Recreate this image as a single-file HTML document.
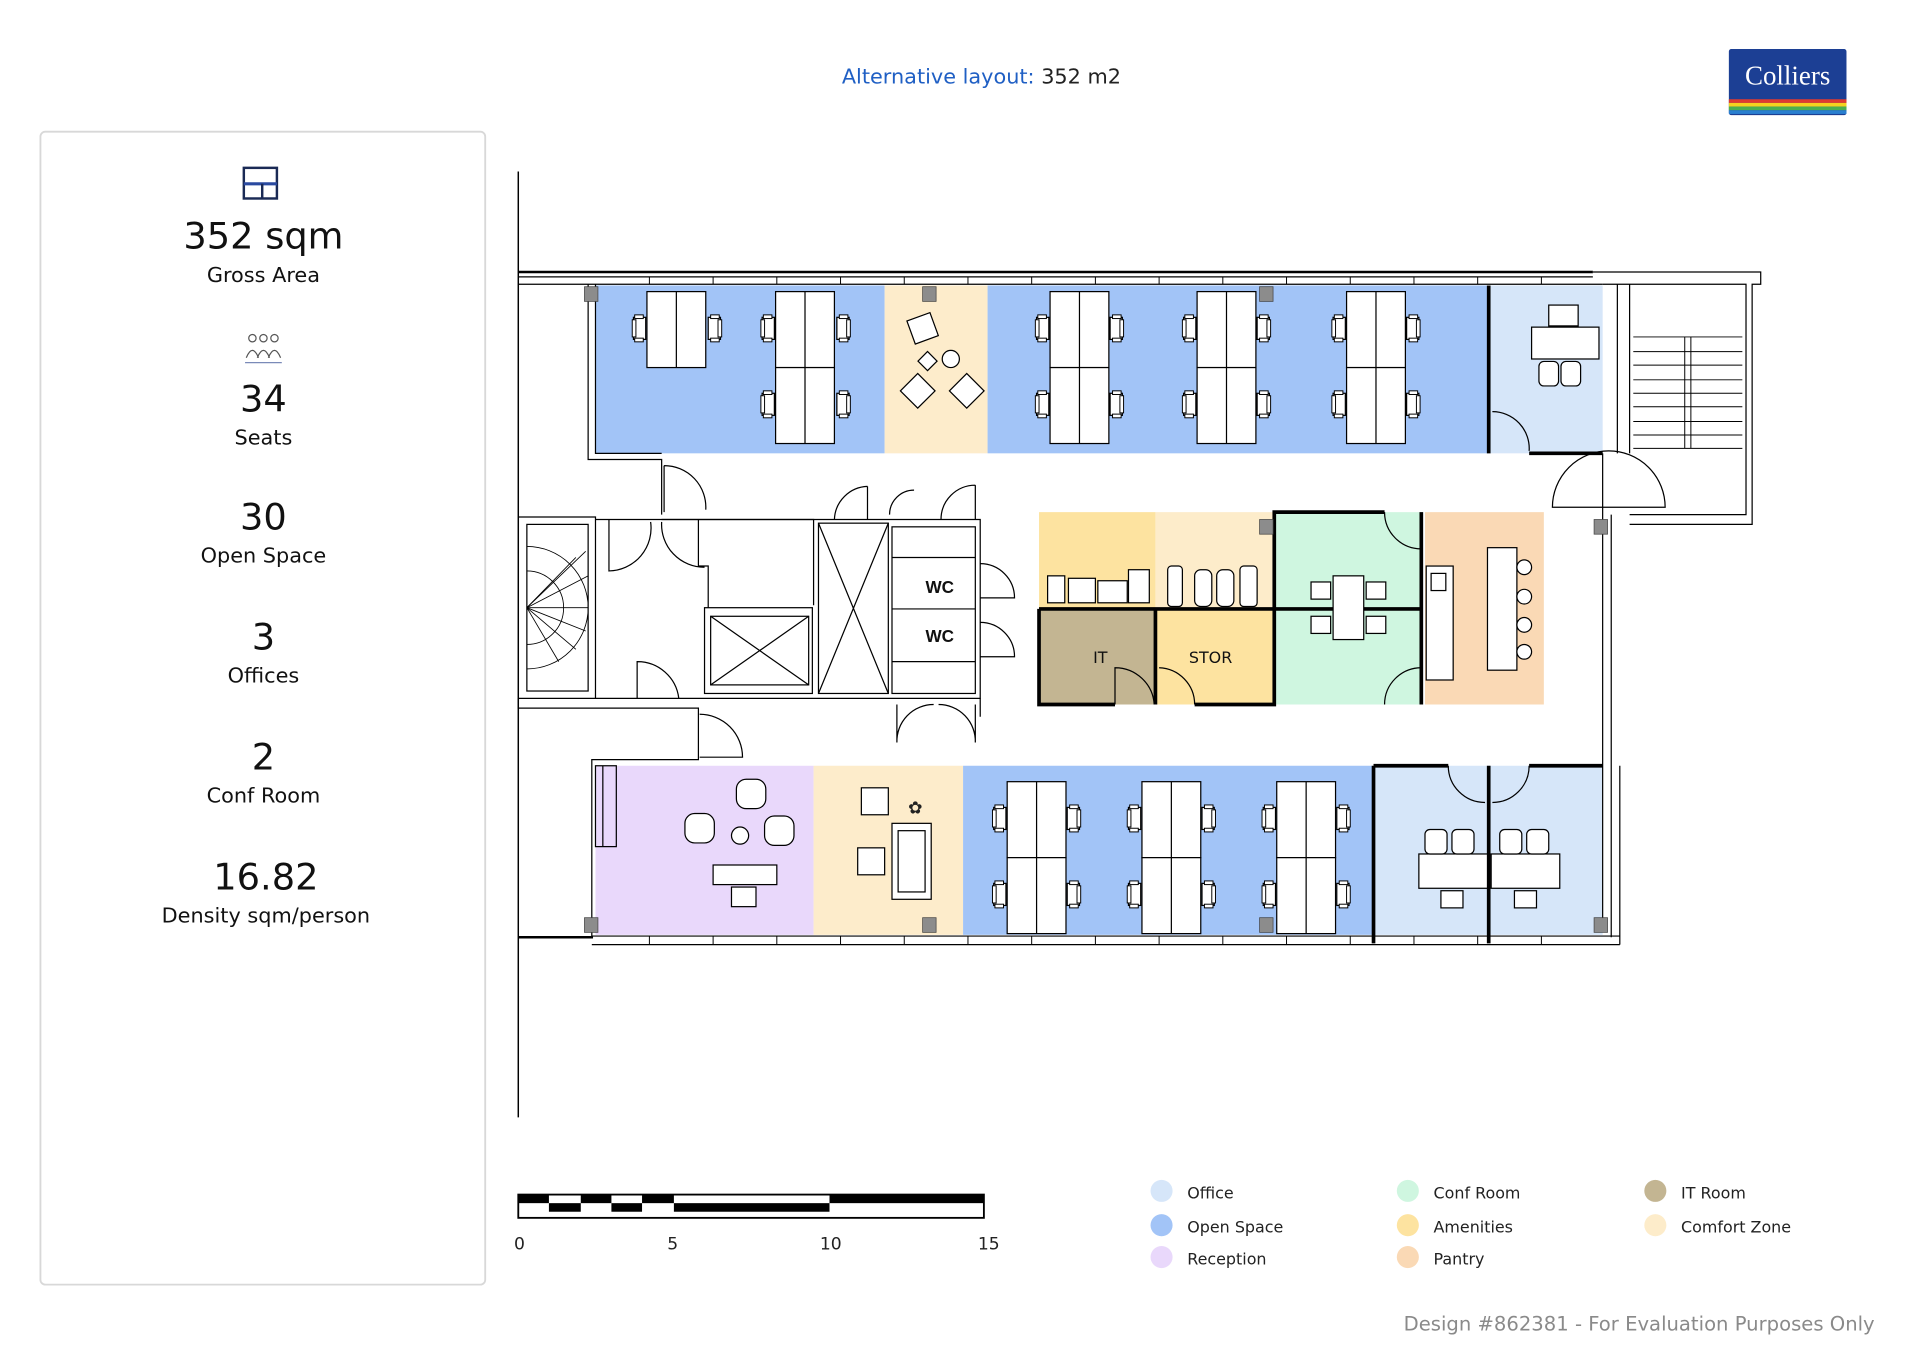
<!DOCTYPE html>
<html><head><meta charset="utf-8"><style>
html,body{margin:0;padding:0;background:#fff;}
svg{display:block;}
text{font-family:"DejaVu Sans","Liberation Sans",sans-serif;}
</style></head><body>
<svg width="1920" height="1359" viewBox="0 0 1567 1109.2" preserveAspectRatio="none" xmlns="http://www.w3.org/2000/svg">
<defs>
<g id="chR"><rect x="0" y="-9" width="10" height="18" fill="#fff" stroke="#000" stroke-width="1"/><rect x="2" y="-11" width="7" height="3" fill="#fff" stroke="#000" stroke-width="0.8"/><rect x="2" y="8" width="7" height="3" fill="#fff" stroke="#000" stroke-width="0.8"/><rect x="8" y="-7" width="3" height="14" fill="#fff" stroke="#000" stroke-width="0.8"/></g>
<g id="chL"><use href="#chR" transform="scale(-1,1)"/></g>
<g id="desk2"><rect x="0" y="0" width="48" height="62" fill="#fff" stroke="#000" stroke-width="1"/><line x1="24" y1="0" x2="24" y2="62" stroke="#000" stroke-width="1"/></g>
<clipPath id="stc"><rect x="430" y="428" width="50" height="136"/></clipPath>
</defs>

<text x="801" y="68" font-size="17" text-anchor="middle"><tspan fill="#1f5fc4">Alternative layout:</tspan><tspan fill="#222"> 352 m2</tspan></text>
<rect x="1411" y="40" width="96" height="54" fill="#1c3f94" rx="2"/>
<text x="1459" y="69" font-size="22" fill="#fff" text-anchor="middle" style="font-family:'Liberation Serif',serif">Colliers</text>
<rect x="1411" y="81" width="96" height="3" fill="#e03a2f"/>
<rect x="1411" y="84" width="96" height="3" fill="#f5d21f"/>
<rect x="1411" y="87" width="96" height="3" fill="#4caf50"/>
<rect x="1411" y="90" width="96" height="3" fill="#2a7fd0"/>

<rect x="33" y="107.5" width="363" height="941" rx="4" fill="#fff" stroke="#d8d8d8" stroke-width="1.5"/>
<rect x="199" y="137" width="27" height="25" fill="none" stroke="#1a2a55" stroke-width="2"/>
<line x1="199" y1="150" x2="226" y2="150" stroke="#2a4aa0" stroke-width="2.5"/>
<line x1="214" y1="150" x2="214" y2="162" stroke="#1a2a55" stroke-width="2"/>
<text x="215" y="203" font-size="30" text-anchor="middle" fill="#111">352 sqm</text>
<text x="215" y="230" font-size="17" text-anchor="middle" fill="#111">Gross Area</text>
<g fill="none" stroke="#555" stroke-width="1"><circle cx="206" cy="276" r="3"/><circle cx="215" cy="276" r="3"/><circle cx="224" cy="276" r="3"/><path d="M201 292 q5-12 10 0 M210 292 q5-12 10 0 M219 292 q5-12 10 0"/></g>
<line x1="200" y1="296" x2="230" y2="296" stroke="#7a8ab8" stroke-width="1"/>
<text x="215" y="336" font-size="30" text-anchor="middle" fill="#111">34</text>
<text x="215" y="363" font-size="17" text-anchor="middle" fill="#111">Seats</text>
<text x="215" y="432" font-size="30" text-anchor="middle" fill="#111">30</text>
<text x="215" y="459" font-size="17" text-anchor="middle" fill="#111">Open Space</text>
<text x="215" y="530" font-size="30" text-anchor="middle" fill="#111">3</text>
<text x="215" y="557" font-size="17" text-anchor="middle" fill="#111">Offices</text>
<text x="215" y="628" font-size="30" text-anchor="middle" fill="#111">2</text>
<text x="215" y="655" font-size="17" text-anchor="middle" fill="#111">Conf Room</text>
<text x="217" y="726" font-size="30" text-anchor="middle" fill="#111">16.82</text>
<text x="217" y="753" font-size="17" text-anchor="middle" fill="#111">Density sqm/person</text>

<line x1="423" y1="140" x2="423" y2="912" stroke="#000" stroke-width="1.2"/>

<rect x="486" y="233" width="236" height="137" fill="#a2c4f7"/>
<rect x="722" y="233" width="84" height="137" fill="#fdeccb"/>
<rect x="806" y="233" width="408" height="137" fill="#a2c4f7"/>
<rect x="1216" y="233" width="92" height="137" fill="#d6e6f9"/>
<rect x="848" y="418" width="95" height="78" fill="#fde3a0"/>
<rect x="943" y="418" width="97" height="78" fill="#fdecca"/>
<rect x="1040" y="418" width="121" height="157" fill="#cff6e0"/>
<rect x="1163" y="418" width="97" height="157" fill="#fad9b5"/>
<rect x="848" y="497" width="95" height="78" fill="#c3b592"/>
<rect x="943" y="497" width="97" height="78" fill="#fde3a0"/>
<rect x="486" y="625" width="178" height="138" fill="#e9d8fb"/>
<rect x="664" y="625" width="122" height="138" fill="#fdeccb"/>
<rect x="786" y="625" width="334" height="138" fill="#a2c4f7"/>
<rect x="1121" y="625" width="187" height="138" fill="#d6e6f9"/>

<g fill="none" stroke="#000" stroke-width="1">
<line x1="423" y1="222" x2="1300" y2="222" stroke-width="2"/>
<line x1="423" y1="226" x2="1300" y2="226"/>
<line x1="423" y1="232" x2="1308" y2="232"/>
<path d="M1300 222 H1437 V232 H1430 V428 H1330 M1308 232 H1425 V420 H1330"/>
<line x1="1320" y1="232" x2="1320" y2="370"/><line x1="1330" y1="232" x2="1330" y2="370"/>
<g stroke-width="0.8"><line x1="1333" y1="275" x2="1422" y2="275"/><line x1="1333" y1="287" x2="1422" y2="287"/><line x1="1333" y1="298" x2="1422" y2="298"/><line x1="1333" y1="310" x2="1422" y2="310"/><line x1="1333" y1="321" x2="1422" y2="321"/><line x1="1333" y1="332" x2="1422" y2="332"/><line x1="1333" y1="344" x2="1422" y2="344"/><line x1="1333" y1="355" x2="1422" y2="355"/><line x1="1333" y1="366" x2="1422" y2="366"/><line x1="1375" y1="275" x2="1375" y2="366"/><line x1="1380" y1="275" x2="1380" y2="366"/></g>
<path d="M480 232 V375 H540 V420"/><path d="M486 232 V370 H540"/>
<line x1="1215" y1="233" x2="1215" y2="370" stroke-width="3"/>
<path d="M1248 370 H1308" stroke-width="3"/>
<path d="M1218 336 A30 30 0 0 1 1248 368"/>
<path d="M1308 370 V760"/><path d="M1315 420 V765"/>
<path d="M1267 414 A42 42 0 0 1 1359 414 Z"/>
<path d="M542 380 A34 34 0 0 1 576 416 M542 380 V418"/>
<path d="M423 422 H486 V570 H423"/><rect x="430" y="428" width="50" height="136"/>
<g stroke-width="0.7" clip-path="url(#stc)"><circle cx="430" cy="496" r="50"/><circle cx="430" cy="496" r="30"/><line x1="430" y1="496" x2="480" y2="470"/><line x1="430" y1="496" x2="478" y2="450"/><line x1="430" y1="496" x2="470" y2="455"/><line x1="430" y1="496" x2="480" y2="496"/><line x1="430" y1="496" x2="478" y2="515"/><line x1="430" y1="496" x2="470" y2="530"/><line x1="430" y1="496" x2="456" y2="540"/></g>
<path d="M486 424 H800 V570 H486"/>
<path d="M497 424 V466 A35 35 0 0 0 531 426"/>
<path d="M540 426 A35 35 0 0 0 575 463 M540 424 H570 V462 H578 V496 M570 424 H664 V494"/>
<rect x="575" y="496" width="88" height="70"/><rect x="580" y="503" width="80" height="56"/><path d="M580 503 L660 559 M660 503 L580 559"/>
<rect x="668" y="427" width="57" height="139"/><path d="M668 427 L725 566 M725 427 L668 566"/>
<rect x="728" y="430" width="68" height="136"/>
<line x1="728" y1="455" x2="796" y2="455"/><line x1="728" y1="497" x2="796" y2="497"/><line x1="728" y1="540" x2="796" y2="540"/>
<path d="M708 397 V424 M708 397 A28 28 0 0 0 681 424 M726 420 A20 20 0 0 1 746 400 M796 396 A28 28 0 0 0 768 424 M796 396 V424"/>
<path d="M800 460 A28 28 0 0 1 828 488 H800 M800 508 A28 28 0 0 1 828 536 H800"/>
<path d="M520 570 V540 A34 34 0 0 1 554 570 M800 570 V585"/>
<path d="M732 575 V606 A30 30 0 0 1 762 575 M796 575 V606 A30 30 0 0 0 766 575"/>
<path d="M423 570 V578 H570 V620 H483 V765"/>
<path d="M571 583 A35 35 0 0 1 606 618 H571"/>
<line x1="423" y1="765" x2="484" y2="765" stroke-width="2"/>
<line x1="483" y1="764" x2="1322" y2="764"/>
<line x1="483" y1="771" x2="1322" y2="771"/>
<line x1="1322" y1="625" x2="1322" y2="771"/>
<rect x="486" y="625" width="17" height="66"/><line x1="492" y1="625" x2="492" y2="691"/>
<path d="M848 497 H1040 M848 497 V575 H910 M943 497 V575 M975 575 H1040 V418 H1130 M1040 497 H1160 M1160 418 V575" stroke-width="3"/>
<path d="M1130 418 A30 30 0 0 0 1160 448 M1160 545 A30 30 0 0 0 1130 575 M910 575 V545 A32 32 0 0 1 942 575 M946 545 A30 30 0 0 1 975 575"/>
<path d="M1121 625 V770 M1215 625 V770 M1121 625 H1182 M1248 625 H1308" stroke-width="3"/>
<path d="M1182 625 A30 30 0 0 0 1212 655 M1248 625 A30 30 0 0 1 1218 655"/>
</g>

<g stroke="#000" stroke-width="0.8">
<line x1="530" y1="226" x2="530" y2="232"/><line x1="582" y1="226" x2="582" y2="232"/><line x1="634" y1="226" x2="634" y2="232"/><line x1="686" y1="226" x2="686" y2="232"/><line x1="738" y1="226" x2="738" y2="232"/><line x1="790" y1="226" x2="790" y2="232"/><line x1="842" y1="226" x2="842" y2="232"/><line x1="894" y1="226" x2="894" y2="232"/><line x1="946" y1="226" x2="946" y2="232"/><line x1="998" y1="226" x2="998" y2="232"/><line x1="1050" y1="226" x2="1050" y2="232"/><line x1="1102" y1="226" x2="1102" y2="232"/><line x1="1154" y1="226" x2="1154" y2="232"/><line x1="1206" y1="226" x2="1206" y2="232"/><line x1="1258" y1="226" x2="1258" y2="232"/>
<line x1="530" y1="764" x2="530" y2="771"/><line x1="582" y1="764" x2="582" y2="771"/><line x1="634" y1="764" x2="634" y2="771"/><line x1="686" y1="764" x2="686" y2="771"/><line x1="738" y1="764" x2="738" y2="771"/><line x1="790" y1="764" x2="790" y2="771"/><line x1="842" y1="764" x2="842" y2="771"/><line x1="894" y1="764" x2="894" y2="771"/><line x1="946" y1="764" x2="946" y2="771"/><line x1="998" y1="764" x2="998" y2="771"/><line x1="1050" y1="764" x2="1050" y2="771"/><line x1="1102" y1="764" x2="1102" y2="771"/><line x1="1154" y1="764" x2="1154" y2="771"/><line x1="1206" y1="764" x2="1206" y2="771"/><line x1="1258" y1="764" x2="1258" y2="771"/>
</g>
<g fill="#8c8c8c" stroke="#444" stroke-width="0.6">
<rect x="477" y="234" width="11" height="12"/><rect x="753" y="234" width="11" height="12"/><rect x="1028" y="234" width="11" height="12"/><rect x="1028" y="424" width="11" height="12"/><rect x="1301" y="424" width="11" height="12"/><rect x="477" y="749" width="11" height="12"/><rect x="753" y="749" width="11" height="12"/><rect x="1028" y="749" width="11" height="12"/><rect x="1301" y="749" width="11" height="12"/>
</g>

<use href="#desk2" x="528" y="238"/>
<use href="#chL" x="527" y="268"/><use href="#chR" x="578" y="268"/>
<use href="#desk2" x="633" y="238"/><use href="#desk2" x="633" y="300"/>
<use href="#chL" x="632" y="268"/><use href="#chR" x="683" y="268"/><use href="#chL" x="632" y="330"/><use href="#chR" x="683" y="330"/>
<use href="#desk2" x="857" y="238"/><use href="#desk2" x="857" y="300"/>
<use href="#chL" x="856" y="268"/><use href="#chR" x="906" y="268"/><use href="#chL" x="856" y="330"/><use href="#chR" x="906" y="330"/>
<use href="#desk2" x="977" y="238"/><use href="#desk2" x="977" y="300"/>
<use href="#chL" x="976" y="268"/><use href="#chR" x="1026" y="268"/><use href="#chL" x="976" y="330"/><use href="#chR" x="1026" y="330"/>
<use href="#desk2" x="1099" y="238"/><use href="#desk2" x="1099" y="300"/>
<use href="#chL" x="1098" y="268"/><use href="#chR" x="1148" y="268"/><use href="#chL" x="1098" y="330"/><use href="#chR" x="1148" y="330"/>
<use href="#desk2" x="822" y="638"/><use href="#desk2" x="822" y="700"/>
<use href="#chL" x="821" y="668"/><use href="#chR" x="871" y="668"/><use href="#chL" x="821" y="730"/><use href="#chR" x="871" y="730"/>
<use href="#desk2" x="932" y="638"/><use href="#desk2" x="932" y="700"/>
<use href="#chL" x="931" y="668"/><use href="#chR" x="981" y="668"/><use href="#chL" x="931" y="730"/><use href="#chR" x="981" y="730"/>
<use href="#desk2" x="1042" y="638"/><use href="#desk2" x="1042" y="700"/>
<use href="#chL" x="1041" y="668"/><use href="#chR" x="1091" y="668"/><use href="#chL" x="1041" y="730"/><use href="#chR" x="1091" y="730"/>

<g fill="#fff" stroke="#000" stroke-width="1">
<rect x="743" y="258" width="20" height="20" transform="rotate(-20 753 268)"/>
<rect x="752" y="289" width="11" height="11" transform="rotate(45 757 294)"/><circle cx="776" cy="293" r="7"/>
<rect x="739" y="309" width="20" height="20" transform="rotate(45 749 319)"/><rect x="779" y="309" width="20" height="20" transform="rotate(45 789 319)"/>
<rect x="1250" y="267" width="55" height="26"/><rect x="1264" y="249" width="24" height="17"/>
<rect x="1256" y="295" width="16" height="20" rx="4"/><rect x="1274" y="295" width="16" height="20" rx="4"/>
<rect x="855" y="470" width="14" height="22"/><rect x="872" y="472" width="22" height="20"/><rect x="896" y="474" width="24" height="18"/><rect x="921" y="465" width="17" height="27"/>
<rect x="953" y="462" width="12" height="33" rx="3"/><rect x="975" y="465" width="14" height="30" rx="5"/><rect x="993" y="465" width="14" height="30" rx="5"/><rect x="1012" y="462" width="14" height="33" rx="3"/>
<rect x="1088" y="470" width="25" height="52"/>
<rect x="1070" y="475" width="16" height="14"/><rect x="1115" y="475" width="16" height="14"/><rect x="1070" y="503" width="16" height="14"/><rect x="1115" y="503" width="16" height="14"/>
<rect x="1164" y="462" width="22" height="93"/><rect x="1168" y="468" width="12" height="14"/>
<rect x="1214" y="447" width="24" height="100"/>
<circle cx="1244" cy="463" r="6"/><circle cx="1244" cy="487" r="6"/><circle cx="1244" cy="510" r="6"/><circle cx="1244" cy="532" r="6"/>
<rect x="601" y="636" width="24" height="24" rx="8"/><rect x="559" y="664" width="24" height="24" rx="8"/><rect x="624" y="666" width="24" height="24" rx="8"/><circle cx="604" cy="682" r="7"/>
<rect x="582" y="706" width="52" height="16"/><rect x="597" y="724" width="20" height="16"/>
<rect x="703" y="643" width="22" height="22"/><rect x="700" y="692" width="22" height="22"/><rect x="728" y="672" width="32" height="62"/><rect x="733" y="678" width="22" height="50"/>
<rect x="1158" y="697" width="56" height="28"/><rect x="1217" y="697" width="56" height="28"/>
<rect x="1163" y="677" width="18" height="20" rx="4"/><rect x="1185" y="677" width="18" height="20" rx="4"/><rect x="1224" y="677" width="18" height="20" rx="4"/><rect x="1246" y="677" width="18" height="20" rx="4"/>
<rect x="1176" y="727" width="18" height="14"/><rect x="1236" y="727" width="18" height="14"/>
</g>
<text x="747" y="664" font-size="14" text-anchor="middle" fill="#222">✿</text>

<text x="767" y="484" font-size="14" font-weight="bold" text-anchor="middle" fill="#111" style="font-family:'Liberation Sans',sans-serif">WC</text>
<text x="767" y="524" font-size="14" font-weight="bold" text-anchor="middle" fill="#111" style="font-family:'Liberation Sans',sans-serif">WC</text>
<text x="898" y="541" font-size="13" text-anchor="middle" fill="#111">IT</text>
<text x="988" y="541" font-size="13" text-anchor="middle" fill="#111">STOR</text>

<rect x="423" y="975" width="380" height="19" fill="#fff" stroke="#000" stroke-width="1.5"/>
<g fill="#000">
<rect x="423" y="975" width="25" height="7"/><rect x="474" y="975" width="25" height="7"/><rect x="524" y="975" width="26" height="7"/>
<rect x="448" y="982" width="26" height="7"/><rect x="499" y="982" width="25" height="7"/><rect x="550" y="982" width="127" height="7"/>
<rect x="677" y="975" width="126" height="7"/>
</g>
<text x="424" y="1020" font-size="14" text-anchor="middle" fill="#222">0</text>
<text x="549" y="1020" font-size="14" text-anchor="middle" fill="#222">5</text>
<text x="678" y="1020" font-size="14" text-anchor="middle" fill="#222">10</text>
<text x="807" y="1020" font-size="14" text-anchor="middle" fill="#222">15</text>

<g font-size="13" fill="#222">
<circle cx="948" cy="972" r="9" fill="#d6e6f9"/><text x="969" y="978">Office</text>
<circle cx="948" cy="1000" r="9" fill="#a2c4f7"/><text x="969" y="1006">Open Space</text>
<circle cx="948" cy="1026" r="9" fill="#e9d8fb"/><text x="969" y="1032">Reception</text>
<circle cx="1149" cy="972" r="9" fill="#cff6e0"/><text x="1170" y="978">Conf Room</text>
<circle cx="1149" cy="1000" r="9" fill="#fde3a0"/><text x="1170" y="1006">Amenities</text>
<circle cx="1149" cy="1026" r="9" fill="#fad9b5"/><text x="1170" y="1032">Pantry</text>
<circle cx="1351" cy="972" r="9" fill="#c3b592"/><text x="1372" y="978">IT Room</text>
<circle cx="1351" cy="1000" r="9" fill="#fdecca"/><text x="1372" y="1006">Comfort Zone</text>
</g>
<text x="1530" y="1086" font-size="16" text-anchor="end" fill="#8a8a8a">Design #862381 - For Evaluation Purposes Only</text>
</svg>
</body></html>
